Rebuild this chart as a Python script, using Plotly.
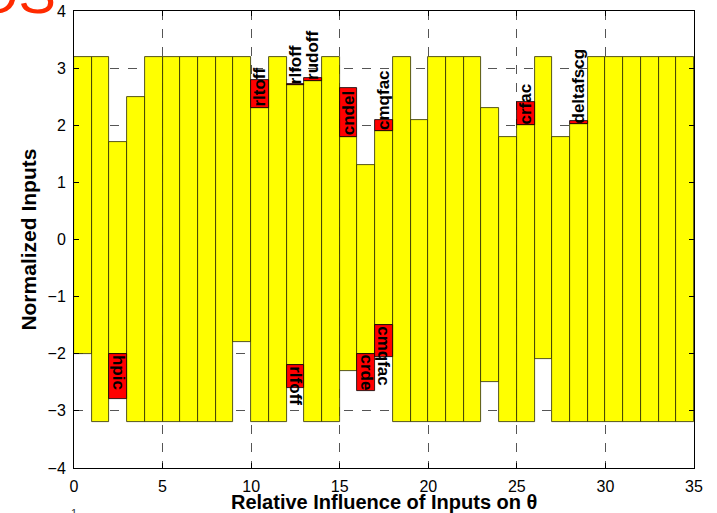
import plotly.graph_objects as go

# ---- data -----------------------------------------------------------
inputs = list(range(35))
bar_top = [3.2, 3.2, 1.7, 2.5, 3.2, 3.2, 3.2, 3.2, 3.2, 3.2,
           2.3, 3.2, 2.7, 2.77, 3.2, 1.8, 1.3, 1.9, 3.2, 2.1,
           3.2, 3.2, 3.2, 2.3, 1.8, 2.0, 3.2, 1.8, 2.02, 3.2,
           3.2, 3.2, 3.2, 3.2, 3.2]
bar_bottom = [-2.0, -3.2, -2.0, -3.2, -3.2, -3.2, -3.2, -3.2, -3.2, -1.8,
              -3.2, -3.2, -2.2, -3.2, -3.2, -2.3, -2.0, -1.5, -3.2, -3.2,
              -3.2, -3.2, -3.2, -2.5, -3.2, -3.2, -2.1, -3.2, -3.2, -3.2,
              -3.2, -3.2, -3.2, -3.2, -3.2]

# highlighted inputs above the bars
top_idx = [10, 12, 13, 15, 17, 25, 28]
top_low = [2.3, 2.7, 2.77, 1.8, 1.9, 2.0, 2.02]
top_high = [2.8, 2.72, 2.82, 2.65, 2.1, 2.4, 2.08]
top_names = ["rltoff", "rlfoff", "rudoff", "cndel", "cmqfac", "crfac", "deltafscg"]

# highlighted inputs below the bars
bot_idx = [2, 12, 16, 17]
bot_high = [-2.0, -2.2, -2.0, -1.5]
bot_low = [-2.8, -2.6, -2.65, -2.05]
bot_names = ["hpic", "rlfoff", "crde", "cmqfac"]

x_ticks = [0, 5, 10, 15, 20, 25, 30, 35]
y_ticks = [-4, -3, -2, -1, 0, 1, 2, 3, 4]

# ---- figure ---------------------------------------------------------
FONT = "Liberation Sans, Arial, sans-serif"
fig = go.Figure()

fig.add_trace(go.Bar(
    x=[i + 0.5 for i in inputs],
    base=bar_bottom,
    y=[t - b for t, b in zip(bar_top, bar_bottom)],
    width=1,
    marker=dict(color="#FFFF00", line=dict(color="#2a2a00", width=0.8)),
    hoverinfo="skip", showlegend=False,
))

fig.add_trace(go.Bar(
    x=[i + 0.5 for i in top_idx + bot_idx],
    base=top_low + bot_low,
    y=[h - l for h, l in zip(top_high + bot_high, top_low + bot_low)],
    width=1,
    marker=dict(color="#FF0000", line=dict(color="black", width=0.8)),
    hoverinfo="skip", showlegend=False,
))

annots = []
label_font = dict(family=FONT, size=17, color="black")
for i, lo, name in zip(top_idx, top_low, top_names):
    annots.append(dict(x=i + 0.5, y=lo, xref="x", yref="y", text="<b>%s</b>" % name,
                       textangle=-90, showarrow=False, xanchor="center", yanchor="bottom",
                       font=label_font, borderpad=0))
for i, hi, name in zip(bot_idx, bot_high, bot_names):
    annots.append(dict(x=i + 0.5, y=hi, xref="x", yref="y", text="<b>%s</b>" % name,
                       textangle=90, showarrow=False, xanchor="center", yanchor="top",
                       font=label_font, borderpad=0))

# axis titles
annots.append(dict(x=0.5, y=-0.046, xref="paper", yref="paper",
                   text="<b>Relative Influence of Inputs on θ</b>", showarrow=False,
                   xanchor="center", yanchor="top",
                   font=dict(family=FONT, size=20, color="black")))
annots.append(dict(x=-0.074, y=0.5, xref="paper", yref="paper",
                   text="<b>Normalized Inputs</b>", showarrow=False, textangle=-90,
                   xanchor="center", yanchor="middle",
                   font=dict(family=FONT, size=21, color="black")))

# cropped page artefacts
annots.append(dict(x=-0.163, y=0.966, xref="paper", yref="paper", text="OS",
                   showarrow=False, xanchor="left", yanchor="bottom",
                   font=dict(family=FONT, size=56, color="#FF2a00")))
annots.append(dict(x=0.0, y=-0.082, xref="paper", yref="paper", text="1",
                   showarrow=False, xanchor="center", yanchor="top",
                   font=dict(family=FONT, size=11, color="#333")))

axis_common = dict(
    showline=True, linecolor="black", linewidth=1, mirror="ticks",
    ticks="inside", ticklen=5, tickcolor="black",
    showgrid=True, gridcolor="#555555", griddash="dash", gridwidth=1,
    zeroline=False, automargin=False,
    tickfont=dict(family=FONT, size=16, color="black"),
)

fig.update_layout(
    width=717, height=513,
    margin=dict(l=74, r=23, t=11, b=45, autoexpand=False),
    paper_bgcolor="white", plot_bgcolor="white",
    barmode="overlay", bargap=0,
    annotations=annots,
    xaxis=dict(range=[0, 35], tickvals=x_ticks, ticklabelstandoff=4, **axis_common),
    yaxis=dict(range=[-4, 4], tickvals=y_ticks, ticklabelstandoff=4, **axis_common),
)

# remove the default 8px page margin so the figure fills the window exactly
fig.write_html("out.html", config={"displayModeBar": False},
               post_script="document.body.style.margin='0';")
